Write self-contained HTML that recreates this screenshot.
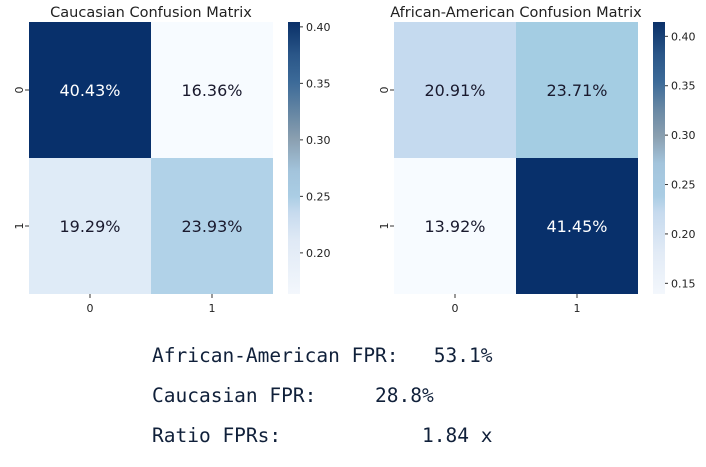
<!DOCTYPE html>
<html><head><meta charset="utf-8"><style>
body{margin:0;background:#fff;width:706px;height:467px;overflow:hidden}
svg{display:block}
.t{font-family:"DejaVu Sans","Liberation Sans",sans-serif;fill:#222}
.m{font-family:"DejaVu Sans Mono","Liberation Mono",monospace;font-size:19.5px;fill:#10203a;white-space:pre}
</style></head><body>
<svg id="c" width="706" height="467">
<defs>
<linearGradient id="cbL" x1="0" y1="1" x2="0" y2="0">
<stop offset="0" stop-color="#f3f7fc"/><stop offset="0.2" stop-color="#dfe9f5"/><stop offset="0.3" stop-color="#c6daee"/><stop offset="0.36" stop-color="#aacde4"/><stop offset="0.45" stop-color="#a3c4dc"/><stop offset="0.57" stop-color="#8a9fb0"/><stop offset="0.66" stop-color="#6888a4"/><stop offset="0.78" stop-color="#3c6a98"/><stop offset="0.88" stop-color="#2a5688"/><stop offset="1" stop-color="#0a3068"/>
</linearGradient>
<linearGradient id="cbR" x1="0" y1="1" x2="0" y2="0">
<stop offset="0" stop-color="#f3f7fc"/><stop offset="0.15" stop-color="#e2ebf6"/><stop offset="0.3" stop-color="#c6daee"/><stop offset="0.36" stop-color="#aacde4"/><stop offset="0.48" stop-color="#a3c4dc"/><stop offset="0.58" stop-color="#8a9fb0"/><stop offset="0.68" stop-color="#6888a4"/><stop offset="0.78" stop-color="#3c6a98"/><stop offset="0.88" stop-color="#2a5688"/><stop offset="1" stop-color="#0a3068"/>
</linearGradient>
</defs>
<text class="m" x="152" y="362">African-American FPR:   53.1%</text>
<text class="m" x="152" y="402">Caucasian FPR:     28.8%</text>
<text class="m" x="152" y="442">Ratio FPRs:            1.84 x</text>
</svg>
<script>
const panelTitles=["Caucasian Confusion Matrix","African-American Confusion Matrix"];
const cauValues=[[0.4043,0.1636],[0.1929,0.2393]];
const aaValues=[[0.2091,0.2371],[0.1392,0.4145]];
const cauTicks=[0.20,0.25,0.30,0.35,0.40];
const aaTicks=[0.15,0.20,0.25,0.30,0.35,0.40];
const axisLabels=["0","1"];
const panels=[{vals:cauValues,ticks:cauTicks,x0:29,x1:273,cb:288,grad:'cbL',title:panelTitles[0],key:"caucasian"},
{vals:aaValues,ticks:aaTicks,x0:394,x1:638,cb:653,grad:'cbR',title:panelTitles[1],key:"african-american"}];
const stops=[[247,251,255],[222,235,247],[198,219,239],[158,202,225],[107,174,214],[66,146,198],[33,113,181],[8,81,156],[8,48,107]];
function blues(t){t=Math.max(0,Math.min(1,t));const p=t*8,i=Math.min(7,Math.floor(p)),f=p-i;const a=stops[i],b=stops[i+1];return`rgb(${a.map((v,k)=>Math.round(v+(b[k]-v)*f)).join(',')})`;}
const svg=document.getElementById('c');const NS="http://www.w3.org/2000/svg";
function mk(tag,attrs,txt){const e=document.createElementNS(NS,tag);for(const k in attrs)e.setAttribute(k,attrs[k]);if(txt!=null)e.textContent=txt;svg.appendChild(e);return e;}
const y0=22,y1=294;
panels.forEach(p=>{
 const flat=p.vals.flat();const vmin=Math.min(...flat),vmax=Math.max(...flat);
 const xs=(j)=>p.x0+(p.x1-p.x0)*j/2, ys=(i)=>y0+(y1-y0)*i/2;
 const cy=(v)=>y1-(v-vmin)/(vmax-vmin)*(y1-y0);
 const tt=mk('text',{x:(p.x0+p.x1)/2,y:17,'text-anchor':'middle','font-size':'14.5',class:'t'},p.title);
 
 
 p.vals.forEach((row,i)=>row.forEach((v,j)=>{
  const t=(v-vmin)/(vmax-vmin);
  const r=mk('rect',{x:xs(j),y:ys(i),width:xs(j+1)-xs(j),height:ys(i+1)-ys(i),fill:blues(t)});
  
  
  const tx=mk('text',{x:(xs(j)+xs(j+1))/2,y:(ys(i)+ys(i+1))/2+6,'text-anchor':'middle','font-size':'16',class:'t',style:'fill:'+(t>0.6?'#fff':'#1a1a2e')},(v*100).toFixed(2)+'%');
  
  
 }));
 axisLabels.forEach((l,k)=>{
  const x=(xs(k)+xs(k+1))/2;
  mk('line',{x1:x,x2:x,y1:y1,y2:y1+4,stroke:'#333'});
  const xl=mk('text',{x:x,y:y1+18,'text-anchor':'middle','font-size':'11',class:'t'},l);
  
  
  const y=(ys(k)+ys(k+1))/2;
  mk('line',{x1:p.x0-4,x2:p.x0,y1:y,y2:y,stroke:'#333'});
  const yl=mk('text',{x:p.x0-10,y:y,'text-anchor':'middle','font-size':'11',class:'t',transform:`rotate(-90 ${p.x0-10} ${y})`,dy:'0.35em'},l);
  
  
 });
 const cb=mk('rect',{x:p.cb,y:y0,width:12,height:y1-y0,fill:'url(#'+p.grad+')'});
 
 
 p.ticks.forEach(v=>{
  const y=cy(v);
  mk('line',{x1:p.cb+12,x2:p.cb+15,y1:y,y2:y,stroke:'#333'});
  const tl=mk('text',{x:p.cb+18,y:y+4,'font-size':'11',class:'t'},v.toFixed(2));
  
  
 });
});
</script>
</body></html>
